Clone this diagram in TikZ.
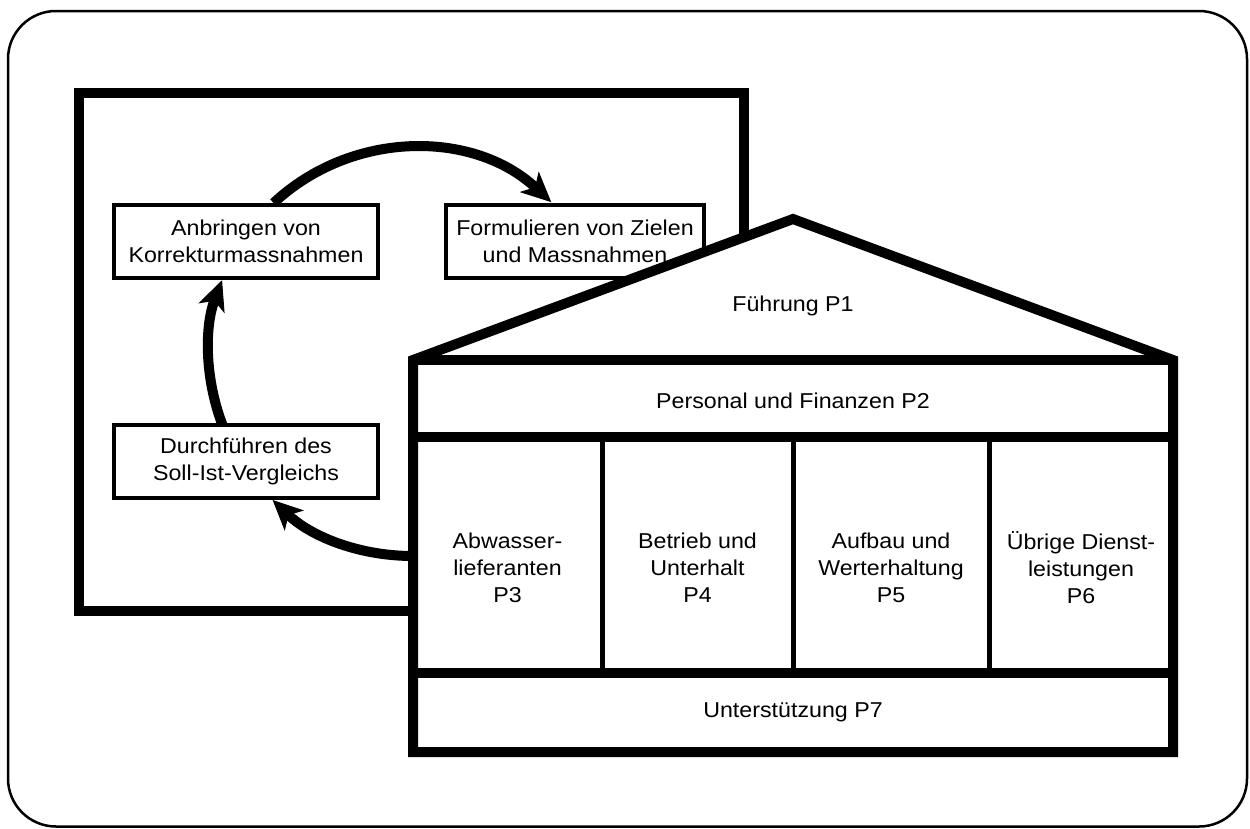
\documentclass[tikz,border=0pt]{standalone}
\usepackage{fontspec}
\setmainfont{Liberation Sans}[FakeStretch=1.08]
\usetikzlibrary{arrows.meta}
\begin{document}
\begin{tikzpicture}[x=1pt,y=-1pt,
  txt/.style={font=\fontsize{21.5pt}{27pt}\selectfont, align=center, inner sep=0pt},
  stepbox/.style={txt, draw, line width=4pt, fill=white, minimum height=73pt},
  cyc/.style={line width=10pt, -{Stealth[length=30pt,width=28pt,inset=8pt,line width=1pt]}},
  heavy/.style={line width=10pt},
  divider/.style={line width=5pt}]
\useasboundingbox (0,0) rectangle (1250,828);

% outer rounded frame
\draw[line width=2.5pt, rounded corners=48pt] (8,11) rectangle (1247,826.5);

% square of the control cycle
\draw[heavy] (79,93) rectangle (744,611);

% cycle arrows (circle centred at (413,352), radius 204)
\coordinate (ctop) at (273.6,203);
\coordinate (cleft) at (222.5,425);
\coordinate (cbot) at (430.8,555.2);
\draw[cyc] (ctop) arc[start angle=-133.07, end angle=-47.3, radius=204];
\draw[cyc] (cleft) arc[start angle=159.03, end angle=200.6, radius=204];
\draw[cyc] (cbot) arc[start angle=85, end angle=133.5, radius=204];

% steps of the cycle
\node[stepbox, minimum width=264pt] (anb) at (246,241) {Anbringen von\\Korrekturmassnahmen};
\node[stepbox, minimum width=258pt] (form) at (575,241) {Formulieren von Zielen\\und Massnahmen};
\node[stepbox, minimum width=264pt] (soll) at (246,461.5) {Durchführen des\\Soll-Ist-Vergleichs};

% house of processes
\draw[heavy, fill=white, line join=miter] (413,360) -- (793,219) -- (1173,360)
  -- (1173,752) -- (413,752) -- cycle;
\draw[heavy] (413,360) -- (1173,360);
\draw[heavy] (413,437) -- (1173,437);
\draw[heavy] (413,673) -- (1173,673);
\draw[divider] (602,437) -- (602,673);
\draw[divider] (793,437) -- (793,673);
\draw[divider] (989,437) -- (989,673);

\node[txt] (p1) at (793,306) {Führung P1};
\node[txt] (p2) at (793,401) {Personal und Finanzen P2};
\node[txt] (p3) at (507.5,568) {Abwasser-\\lieferanten\\P3};
\node[txt] (p4) at (697.5,568) {Betrieb und\\Unterhalt\\P4};
\node[txt] (p5) at (891,568) {Aufbau und\\Werterhaltung\\P5};
\node[txt] (p6) at (1081,568) {Übrige Dienst-\\leistungen\\P6};
\node[txt] (p7) at (793,712) {Unterstützung P7};
\end{tikzpicture}
\end{document}
